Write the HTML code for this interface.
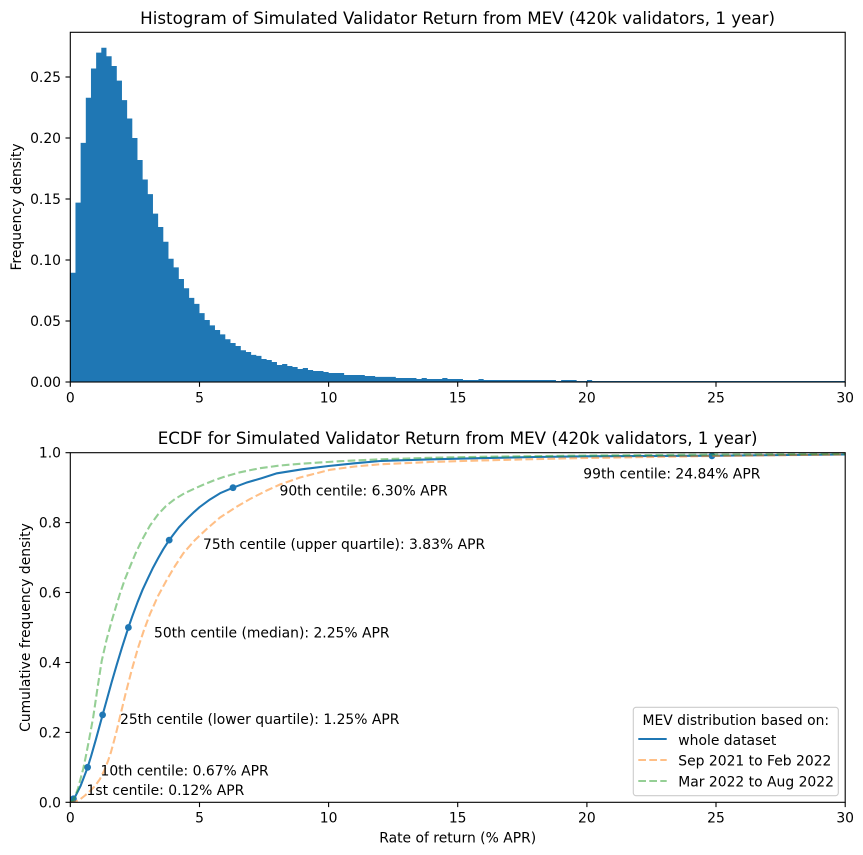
<!DOCTYPE html>
<html><head><meta charset="utf-8">
<style>
html,body{margin:0;padding:0;background:#fff;}
svg{display:block;font-family:"DejaVu Sans","Liberation Sans",sans-serif;}
text{fill:#000;}
</style></head>
<body>
<svg width="863" height="855" viewBox="0 0 863 855" xmlns="http://www.w3.org/2000/svg">
<rect x="0" y="0" width="863" height="855" fill="#fff"/>
<defs>
<clipPath id="c1"><rect x="70.3" y="32.3" width="774.9" height="349.7"/></clipPath>
<clipPath id="c2"><rect x="70.3" y="452.7" width="774.9" height="349.6"/></clipPath>
</defs>

<!-- ===== TOP: Histogram ===== -->
<text x="457.6" y="24" font-size="16.7" text-anchor="middle">Histogram of Simulated Validator Return from MEV (420k validators, 1 year)</text>
<g clip-path="url(#c1)">
<path fill="#1f77b4" transform="translate(70.3,382) scale(5.1667,-1220)" d="M0,0 V0.0896 H1 V0.147 H2 V0.196 H3 V0.233 H4 V0.257 H5 V0.270 H6 V0.274 H7 V0.267 H8 V0.259 H9 V0.247 H10 V0.231 H11 V0.216 H12 V0.200 H13 V0.182 H14 V0.166 H15 V0.154 H16 V0.138 H17 V0.127 H18 V0.115 H19 V0.101 H20 V0.094 H21 V0.0844 H22 V0.0768 H23 V0.069 H24 V0.064 H25 V0.0565 H26 V0.0508 H27 V0.0464 H28 V0.0426 H29 V0.039 H30 V0.035 H31 V0.032 H32 V0.0295 H33 V0.026 H34 V0.0246 H35 V0.0222 H36 V0.0214 H37 V0.0189 H38 V0.018 H39 V0.0164 H40 V0.0139 H41 V0.0148 H42 V0.0131 H43 V0.0123 H44 V0.0107 H45 V0.0115 H46 V0.0098 H47 V0.009 H49 V0.0082 H50 V0.0074 H53 V0.0057 H57 V0.0049 H59 V0.0042 H63 V0.0033 H67 V0.0025 H68 V0.0033 H69 V0.0025 H72 V0.0033 H73 V0.0025 H76 V0.0016 H79 V0.0025 H80 V0.0016 H94 V0.0008 H95 V0.0016 H98 V0.0008 H100 V0.0016 H101 V0.0008 H150 V0 Z"/>
</g>
<rect x="70.3" y="32.3" width="774.9" height="349.7" fill="none" stroke="#000" stroke-width="1.1"/>
<!-- top y ticks -->
<g stroke="#000" stroke-width="1.1">
<line x1="65.5" y1="382" x2="70.3" y2="382"/>
<line x1="65.5" y1="321" x2="70.3" y2="321"/>
<line x1="65.5" y1="260" x2="70.3" y2="260"/>
<line x1="65.5" y1="199" x2="70.3" y2="199"/>
<line x1="65.5" y1="138" x2="70.3" y2="138"/>
<line x1="65.5" y1="77" x2="70.3" y2="77"/>
<line x1="70.3" y1="382" x2="70.3" y2="386.8"/>
<line x1="199.5" y1="382" x2="199.5" y2="386.8"/>
<line x1="328.6" y1="382" x2="328.6" y2="386.8"/>
<line x1="457.7" y1="382" x2="457.7" y2="386.8"/>
<line x1="586.9" y1="382" x2="586.9" y2="386.8"/>
<line x1="716" y1="382" x2="716" y2="386.8"/>
<line x1="845.2" y1="382" x2="845.2" y2="386.8"/>
</g>
<g font-size="13.9" text-anchor="end">
<text x="61" y="387">0.00</text>
<text x="61" y="326">0.05</text>
<text x="61" y="265">0.10</text>
<text x="61" y="204">0.15</text>
<text x="61" y="143">0.20</text>
<text x="61" y="82">0.25</text>
</g>
<g font-size="13.9" text-anchor="middle">
<text x="70.3" y="402.4">0</text>
<text x="199.5" y="402.4">5</text>
<text x="328.6" y="402.4">10</text>
<text x="457.7" y="402.4">15</text>
<text x="586.9" y="402.4">20</text>
<text x="716" y="402.4">25</text>
<text x="845.2" y="402.4">30</text>
</g>
<text x="21" y="207" font-size="13.9" text-anchor="middle" transform="rotate(-90,21,207)">Frequency density</text>

<!-- ===== BOTTOM: ECDF ===== -->
<text x="457.6" y="444" font-size="16.7" text-anchor="middle">ECDF for Simulated Validator Return from MEV (420k validators, 1 year)</text>
<g clip-path="url(#c2)" fill="none" stroke-width="2.08" stroke-linejoin="round">
<polyline stroke="#1f77b4" points="70.3,802.3 73.4,798.8 75.5,796.0 80.6,785.9 85.8,772.2 87.6,767.3 91.0,756.5 96.1,738.7 102.6,714.9 106.5,700.9 111.6,682.4 116.8,664.6 122.0,647.4 128.4,627.5 132.3,616.3 137.5,602.3 142.6,589.7 147.8,578.6 153.0,567.7 158.1,558.3 163.3,549.2 169.2,540.1 173.6,534.2 178.8,527.5 184.0,521.9 189.1,516.7 194.3,511.8 199.5,507.2 209.8,499.6 220.1,493.2 233.0,487.7 246.0,482.8 261.5,478.2 277.0,473.3 302.8,469.2 328.6,466.0 354.4,463.3 380.3,461.0 432,459.3 483.6,458.1 535.3,457.0 587,456.3 712,455.7 845,454.5"/>
<g fill="#1f77b4" stroke="none">
<circle cx="73.4" cy="798.8" r="3.4"/>
<circle cx="87.6" cy="767.3" r="3.4"/>
<circle cx="102.6" cy="714.9" r="3.4"/>
<circle cx="128.4" cy="627.5" r="3.4"/>
<circle cx="169.2" cy="540.1" r="3.4"/>
<circle cx="233.0" cy="487.7" r="3.4"/>
<circle cx="711.9" cy="455.8" r="3.4"/>
</g>
<polyline stroke="#ff7f0e" stroke-opacity="0.5" stroke-dasharray="7.7,3.3" points="70.3,802.3 75,801.6 80,799.5 85,795.5 90,791 95,786 100,779 104,771 108,761 111,752 114,741 117,729.5 120,716.7 126,692 132,669 138,648 144,630 150,614 158,596 166.7,580 175,566 183.3,553.3 195,540 206.7,529 220,517.5 236.7,506.7 250,499 266.7,490.5 280,484.5 300,477.5 330,469.8 355,466.5 380,464.3 430,462 480,460.5 570,458.3 712,456 845,454.5"/>
<polyline stroke="#2ca02c" stroke-opacity="0.5" stroke-dasharray="7.7,3.3" points="70.3,802.3 72.5,800.8 75,796.7 78,788.5 80.5,779 83.3,768.5 86,755.5 89,740 93.3,716.7 97.5,688 101.7,661 106.5,640 111.7,621 116,606.5 120,593.5 125,579 130,566.7 135.5,553.5 141.7,540.5 150,525.5 158,514.5 166,506 175,499 185,493 195,488.3 205,484 215,480 225,476.5 240,472.3 260,468.2 280,465.5 300,463.8 340,461.2 380,459.3 430,457.8 480,456.8 570,455.7 712,454.5 845,453.8"/>
</g>
<rect x="70.3" y="452.7" width="774.9" height="349.6" fill="none" stroke="#000" stroke-width="1.1"/>
<g stroke="#000" stroke-width="1.1">
<line x1="65.5" y1="802.3" x2="70.3" y2="802.3"/>
<line x1="65.5" y1="732.4" x2="70.3" y2="732.4"/>
<line x1="65.5" y1="662.5" x2="70.3" y2="662.5"/>
<line x1="65.5" y1="592.5" x2="70.3" y2="592.5"/>
<line x1="65.5" y1="522.6" x2="70.3" y2="522.6"/>
<line x1="65.5" y1="452.7" x2="70.3" y2="452.7"/>
<line x1="70.3" y1="802.3" x2="70.3" y2="807.1"/>
<line x1="199.5" y1="802.3" x2="199.5" y2="807.1"/>
<line x1="328.6" y1="802.3" x2="328.6" y2="807.1"/>
<line x1="457.7" y1="802.3" x2="457.7" y2="807.1"/>
<line x1="586.9" y1="802.3" x2="586.9" y2="807.1"/>
<line x1="716" y1="802.3" x2="716" y2="807.1"/>
<line x1="845.2" y1="802.3" x2="845.2" y2="807.1"/>
</g>
<g font-size="13.9" text-anchor="end">
<text x="61" y="807.3">0.0</text>
<text x="61" y="737.4">0.2</text>
<text x="61" y="667.5">0.4</text>
<text x="61" y="597.5">0.6</text>
<text x="61" y="527.6">0.8</text>
<text x="61" y="457.7">1.0</text>
</g>
<g font-size="13.9" text-anchor="middle">
<text x="70.3" y="822.7">0</text>
<text x="199.5" y="822.7">5</text>
<text x="328.6" y="822.7">10</text>
<text x="457.7" y="822.7">15</text>
<text x="586.9" y="822.7">20</text>
<text x="716" y="822.7">25</text>
<text x="845.2" y="822.7">30</text>
</g>
<text x="457.7" y="842.7" font-size="13.9" text-anchor="middle">Rate of return (% APR)</text>
<text x="30" y="627.5" font-size="13.9" text-anchor="middle" transform="rotate(-90,30,627.5)">Cumulative frequency density</text>

<!-- annotations -->
<g font-size="13.9">
<text x="583.3" y="478.3">99th centile: 24.84% APR</text>
<text x="279.5" y="495.7">90th centile: 6.30% APR</text>
<text x="203" y="549">75th centile (upper quartile): 3.83% APR</text>
<text x="154" y="637.3">50th centile (median): 2.25% APR</text>
<text x="120" y="724">25th centile (lower quartile): 1.25% APR</text>
<text x="100.5" y="775.7">10th centile: 0.67% APR</text>
<text x="86.5" y="795">1st centile: 0.12% APR</text>
</g>

<!-- legend -->
<rect x="633.3" y="707.3" width="205" height="88.4" rx="2.8" ry="2.8" fill="#fff" fill-opacity="0.8" stroke="#cccccc" stroke-width="1.1"/>
<text x="735.8" y="725" font-size="13.9" text-anchor="middle">MEV distribution based on:</text>
<line x1="638.3" y1="739" x2="666.7" y2="739" stroke="#1f77b4" stroke-width="2.08"/>
<line x1="638.3" y1="760" x2="666.7" y2="760" stroke="#ff7f0e" stroke-opacity="0.5" stroke-width="2.08" stroke-dasharray="7.7,3.3"/>
<line x1="638.3" y1="781" x2="666.7" y2="781" stroke="#2ca02c" stroke-opacity="0.5" stroke-width="2.08" stroke-dasharray="7.7,3.3"/>
<g font-size="13.9">
<text x="678.3" y="745">whole dataset</text>
<text x="678.3" y="765.5">Sep 2021 to Feb 2022</text>
<text x="678.3" y="786.5">Mar 2022 to Aug 2022</text>
</g>
</svg>
</body></html>
